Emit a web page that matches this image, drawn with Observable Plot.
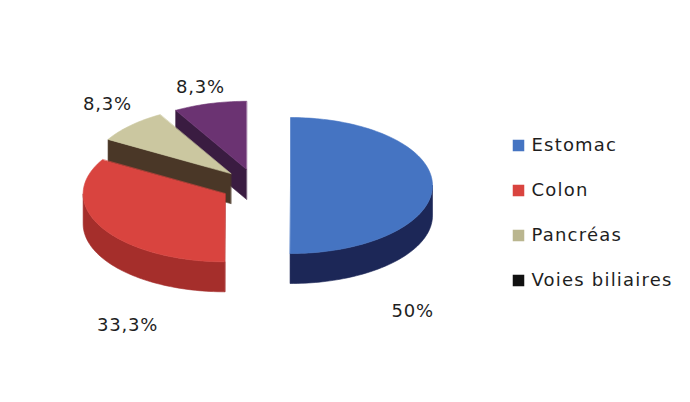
<!DOCTYPE html>
<html>
<head>
<meta charset="utf-8">
<script src="https://cdn.jsdelivr.net/npm/d3@7"></script>
<script src="https://cdn.jsdelivr.net/npm/@observablehq/plot@0.6"></script>
<style>
  html, body { margin: 0; padding: 0; background: #ffffff; }
  #chart svg { display: block; }
</style>
</head>
<body>
<div id="chart"></div>
<script>
// ---- data ----
const categories = ["Estomac", "Colon", "Pancréas", "Voies biliaires"];
const values = [50, 33.3, 8.3, 8.3];
const valueLabels = ["50%", "33,3%", "8,3%", "8,3%"];

// ---- styles ----
const topColors = ["#4574c2", "#d9443f", "#cbc7a0", "#6b3372"];
const sideColors = ["#1c2757", "#a52e2b", "#4a3727", "#3a1c41"];
const legendColors = ["#4574c2", "#d9443f", "#bab68f", "#111111"];

// ---- geometry of the 3D pie (pixel space of the plot scales) ----
const W = 690, H = 402;
const cx = 255, cy = 185, rx = 142, ry = 68, depth = 30, explode = 35;
// label placement: angle (deg, clockwise from 12 o'clock) and radius factor
const labelPlace = [[149, 2.15], [203.6, 2.25], [319, 1.59], [345, 1.5]];

const total = d3.sum(values);
const slices = [];
let acc = 0;
values.forEach((v, i) => {
  const a0 = acc / total * 2 * Math.PI;
  acc += v;
  const a1 = acc / total * 2 * Math.PI;
  const mid = (a0 + a1) / 2;
  const ox = explode * Math.sin(mid);
  const oy = -explode * (ry / rx) * Math.cos(mid);
  slices.push({i, a0, a1, mid, ox, oy});
});

function pt(s, a, r, z) {
  return {x: cx + s.ox + r * rx * Math.sin(a), y: cy + s.oy - r * ry * Math.cos(a) + z};
}
function arc(s, a0, a1, z) {
  const n = Math.max(2, Math.ceil(Math.abs(a1 - a0) / (Math.PI / 120)));
  const out = [];
  for (let k = 0; k <= n; k++) out.push(pt(s, a0 + (a1 - a0) * k / n, 1, z));
  return out;
}

const polys = []; // {points, fill}
const order = slices.slice().sort((p, q) => p.oy - q.oy);
for (const s of order) {
  const side = sideColors[s.i];
  // outer wall (front half: angles between 90 and 270 deg)
  const lo = Math.max(s.a0, Math.PI / 2), hi = Math.min(s.a1, 3 * Math.PI / 2);
  if (hi > lo) {
    const pts = arc(s, lo, hi, 0).concat(arc(s, hi, lo, depth));
    polys.push({points: pts, fill: side});
  }
  // radial walls
  if (Math.sin(s.a0) < -1e-6) {
    polys.push({points: [pt(s, 0, 0, 0), pt(s, s.a0, 1, 0), pt(s, s.a0, 1, depth), pt(s, 0, 0, depth)], fill: side});
  }
  if (Math.sin(s.a1) > 1e-6) {
    polys.push({points: [pt(s, 0, 0, 0), pt(s, s.a1, 1, 0), pt(s, s.a1, 1, depth), pt(s, 0, 0, depth)], fill: side});
  }
  // top face
  polys.push({points: [pt(s, 0, 0, 0)].concat(arc(s, s.a0, s.a1, 0)), fill: topColors[s.i]});
}

const sliceMarks = polys.map(p => Plot.line(p.points, {
  x: "x", y: "y", fill: p.fill, stroke: p.fill, strokeWidth: 0.6, curve: "linear-closed"
}));

const labelRows = slices.map(s => {
  const [deg, k] = labelPlace[s.i];
  const a = deg * Math.PI / 180;
  return {x: cx + k * rx * Math.sin(a), y: cy - k * ry * Math.cos(a), text: valueLabels[s.i]};
});

const legendRows = categories.map((c, i) => ({name: c, color: legendColors[i], x: 518, y: 145 + i * 45}));

const chart = Plot.plot({
  width: W, height: H,
  margin: 0,
  x: {domain: [0, W], range: [0, W], axis: null},
  y: {domain: [0, H], range: [0, H], axis: null},
  style: {fontFamily: "'DejaVu Sans', sans-serif", background: "#ffffff", letterSpacing: "0.8px"},
  marks: [
    ...sliceMarks,
    Plot.text(labelRows, {x: "x", y: "y", text: "text", fontSize: 18, fill: "#1e1e1e"}),
    ...legendRows.map(r => Plot.dot([r], {x: "x", y: "y", symbol: "square", r: 6.5, fill: r.color, stroke: null})),
    Plot.text(legendRows, {x: d => d.x + 13, y: "y", text: "name", textAnchor: "start", fontSize: 18, fill: "#1e1e1e", style: "letter-spacing:1.2px"})
  ]
});
chart.querySelectorAll("g[aria-label='text']").forEach((g, i) => { if (i === 1) g.style.letterSpacing = "1.2px"; });
document.getElementById("chart").appendChild(chart);
</script>
</body>
</html>
